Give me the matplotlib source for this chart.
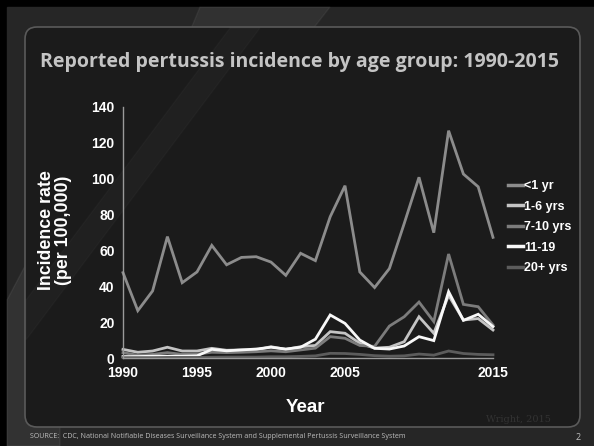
import numpy as np
import matplotlib
matplotlib.use("Agg")
from matplotlib import pyplot as plt
from matplotlib.patches import FancyBboxPatch, Polygon, Rectangle

years = list(range(1990, 2016))

under1 = [47.6, 26.4, 37.4, 67.7, 42.0, 48.0, 62.8, 52.0, 56.1, 56.5, 53.5, 46.1, 58.4,
          54.3, 78.8, 96.1, 48.0, 39.3, 49.9, 75.0, 100.8, 69.9, 126.8, 102.6, 95.5, 67.3]
age1_6 = [4.8, 3.2, 3.9, 6.0, 3.9, 3.9, 5.4, 4.3, 4.5, 4.5, 6.3, 4.8, 6.3,
          7.0, 14.7, 13.8, 8.2, 5.5, 6.0, 9.1, 23.0, 13.8, 35.0, 21.2, 22.0, 15.6]
age7_10 = [3.0, 1.5, 2.0, 3.0, 2.0, 2.2, 3.2, 3.0, 3.2, 3.5, 4.0, 3.5, 4.5,
           5.5, 11.9, 11.0, 7.0, 6.5, 17.8, 23.0, 31.2, 20.3, 58.0, 29.9, 28.6, 18.4]
age11_19 = [0.8, 0.8, 1.0, 1.0, 1.0, 1.2, 4.8, 4.0, 4.5, 5.0, 6.0, 5.0, 6.0,
            10.5, 24.0, 19.3, 10.0, 5.4, 5.0, 6.7, 11.9, 9.7, 37.0, 21.0, 24.4, 17.5]
age20 = [0.2, 0.2, 0.2, 0.3, 0.3, 0.3, 0.4, 0.5, 0.5, 0.5, 0.7, 0.7, 0.9,
         1.2, 2.6, 2.5, 2.0, 1.3, 1.0, 1.2, 2.2, 1.6, 3.9, 2.5, 2.0, 1.8]

series = [("<1 yr", under1, "#8c8c8c"),
          ("1-6 yrs", age1_6, "#c4c4c4"),
          ("7-10 yrs", age7_10, "#7c7c7c"),
          ("11-19", age11_19, "#f8f8f8"),
          ("20+ yrs", age20, "#5c5c5c")]

xtick_pos = [1990, 1995, 2000, 2005, 2015]

W, H = 594, 446
fig = plt.figure(figsize=(W / 100, H / 100), dpi=100, facecolor="#000000")

# slide background in pixel coords
bg = fig.add_axes([0, 0, 1, 1])
bg.set_xlim(0, W)
bg.set_ylim(H, 0)
bg.axis("off")
bg.add_patch(Rectangle((7, 7), W - 7, H - 7, color="#262626", zorder=0))
bg.add_patch(Polygon([(200, 7), (330, 7), (180, 200), (120, 200)], closed=True,
                     color="#ffffff", alpha=0.05, zorder=1))
bg.add_patch(Polygon([(7, 300), (60, 200), (60, 446), (7, 446)], closed=True,
                     color="#ffffff", alpha=0.06, zorder=1))
bg.add_patch(FancyBboxPatch((25, 27), 555, 400, boxstyle="round,pad=0,rounding_size=12",
                            facecolor="#1b1b1b", edgecolor="#5a5a5a", linewidth=1.2, zorder=2))
bg.add_patch(Polygon([(26, 300), (230, 28), (260, 28), (26, 340)], closed=True,
                     color="#ffffff", alpha=0.025, zorder=3))

bg.text(300, 62, "Reported pertussis incidence by age group: 1990-2015", ha="center",
        va="center", fontsize=14.0, color="#c4c4c4", family="Open Sans", weight="bold",
        zorder=5)
bg.text(305, 408, "Year", ha="center", va="center", fontsize=13.5, color="white",
        family="Liberation Sans", weight="bold", zorder=5)
bg.text(55, 230, "Incidence rate\n(per 100,000)", ha="center", va="center", rotation=90,
        fontsize=12.8, color="white", family="Liberation Sans", weight="bold",
        linespacing=1.0, zorder=5)
bg.text(518, 420, "Wright, 2015", ha="center", va="center", fontsize=7, color="#333333",
        family="DejaVu Serif", zorder=5)
bg.text(30, 437, "SOURCE:  CDC, National Notifiable Diseases Surveillance System and "
        "Supplemental Pertussis Surveillance System", ha="left", va="center",
        fontsize=5.1, color="#bdbdbd", family="Open Sans", zorder=5)
bg.text(578, 437, "2", ha="center", va="center", fontsize=6.5, color="#bdbdbd",
        family="Open Sans", zorder=5)

ax = fig.add_axes([123 / W, 1 - 358 / H, 370 / W, 251 / H])
ax.set_facecolor("none")
for name, vals, col in series:
    ax.plot(years, vals, color=col, linewidth=2.0, label=name, clip_on=False,
            solid_joinstyle="miter")

ax.set_xlim(1990, 2015)
ax.set_ylim(0, 140)
ax.set_xticks(xtick_pos)
ax.set_yticks(np.arange(0, 141, 20))
ax.tick_params(length=0, colors="white", labelsize=10, pad=6)
for lab in ax.get_xticklabels() + ax.get_yticklabels():
    lab.set_family("Liberation Sans")
    lab.set_weight("bold")
for s in ["top", "right"]:
    ax.spines[s].set_visible(False)
for s in ["left", "bottom"]:
    ax.spines[s].set_color("#9a9a9a")
    ax.spines[s].set_linewidth(1.0)

leg = ax.legend(loc="upper left", bbox_to_anchor=(497 / W, 1 - 169 / H),
                bbox_transform=fig.transFigure, frameon=False, handlelength=1.2,
                handletextpad=0.1, labelspacing=0.68,
                prop={"family": "Liberation Sans", "weight": "bold", "size": 9})
for t in leg.get_texts():
    t.set_color("white")
for h in leg.get_lines():
    h.set_linewidth(2.5)

fig.savefig("out.png", dpi=100, facecolor=fig.get_facecolor())
